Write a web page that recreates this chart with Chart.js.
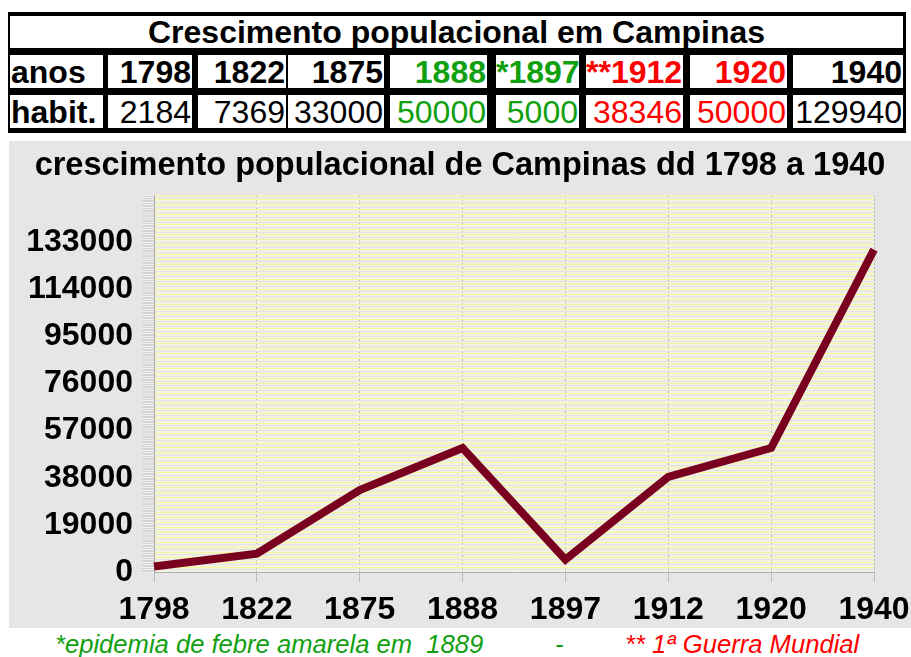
<!DOCTYPE html>
<html>
<head>
<meta charset="utf-8">
<script src="https://cdn.jsdelivr.net/npm/chart.js@4.4.1/dist/chart.umd.min.js"></script>
<style>
  html, body { margin:0; padding:0; background:#ffffff; width:911px; height:657px; overflow:hidden; }
  body { position:relative; font-family:"Liberation Sans", Arial, sans-serif; }
  .abs { position:absolute; box-sizing:border-box; }
  #tbl { left:8px; top:12px; width:898px; height:121px; background:#000; }
  .cell { position:absolute; background:#fff; overflow:visible; white-space:nowrap; }
  .hdr { font-weight:bold; font-size:32px; text-align:center; line-height:33px; }
  .yr { font-weight:bold; font-size:32px; text-align:right; line-height:34px; padding-right:1px; }
  .val { font-size:32px; text-align:right; line-height:34px; padding-right:1px; }
  .lbl { font-weight:bold; font-size:32px; text-align:left; line-height:34px; padding-left:1px; }
  #chartBox { left:9px; top:141px; width:902px; height:487px; background:#e6e6e6; }
  .note { position:absolute; top:629px; font-size:25.6px; font-style:italic; white-space:nowrap; line-height:30px; }
</style>
</head>
<body>
<div id="tbl" class="abs"></div>
<div id="chartBox" class="abs"><canvas id="c" width="902" height="487"></canvas></div>
<div class="note" style="left:55px;color:#10a010;">*epidemia de febre amarela em&nbsp;&nbsp;1889</div>
<div class="note" style="left:555px;color:#10a010;">-</div>
<div class="note" style="left:625px;color:#ff0000;">** 1ª Guerra Mundial</div>
<script>
// ---- data ----
const tableTitle = "Crescimento populacional em Campinas";
const chartTitle = "crescimento populacional de Campinas dd 1798 a 1940";
const rowLabelYears = "anos";
const rowLabelPop = "habit.";
const years = ["1798", "1822", "1875", "1888", "1897", "1912", "1920", "1940"];
const tableYearLabels = ["1798", "1822", "1875", "1888", "*1897", "**1912", "1920", "1940"];
const population = [2184, 7369, 33000, 50000, 5000, 38346, 50000, 129940];
const yMin = 0;
const yMax = 152000;
const yStep = 19000;

// ---- table (styles kept separate) ----
const GREEN = "#10a010", RED = "#ff0000", BLACK = "#000000";
const colColors = [BLACK, BLACK, BLACK, GREEN, GREEN, RED, RED, BLACK];
const colEdges = [[100,183],[190,277],[280,375],[382,478],[488,570],[578,674],[682,778],[785,894]]; // relative to table left
const tbl = document.getElementById('tbl');
function cell(x, y, w, h, cls, text, color) {
  const d = document.createElement('div');
  d.className = 'cell ' + cls;
  d.style.left = x + 'px'; d.style.top = y + 'px';
  d.style.width = w + 'px'; d.style.height = h + 'px';
  d.style.color = color || BLACK;
  d.textContent = text;
  tbl.appendChild(d);
}
cell(2, 4, 893, 32, 'hdr', tableTitle);
cell(2, 43, 92, 33, 'lbl', rowLabelYears);
cell(2, 83, 92, 33, 'lbl', rowLabelPop);
years.forEach((y, i) => {
  const [a, b] = colEdges[i];
  cell(a, 43, b - a, 33, 'yr', tableYearLabels[i], colColors[i]);
  cell(a, 83, b - a, 33, 'val', String(population[i]), colColors[i]);
});

// ---- chart ----
const FONT = "'Liberation Sans', Arial, sans-serif";
const areaBg = {
  id: 'areaBg',
  beforeDraw(chart) {
    const {ctx, chartArea: a} = chart;
    ctx.save();
    ctx.fillStyle = '#f3f3dd';
    ctx.fillRect(a.left, a.top, a.right - a.left, a.bottom - a.top);
    ctx.fillStyle = '#d4d4d4';
    ctx.fillRect(a.left - 12, a.top, 12, a.bottom - a.top);
    ctx.restore();
  }
};

new Chart(document.getElementById('c'), {
  type: 'line',
  data: {
    labels: years,
    datasets: [{
      data: population,
      borderColor: '#7a0020',
      borderWidth: 8,
      pointRadius: 0,
      tension: 0,
      fill: false,
      borderJoinStyle: 'miter',
      borderCapStyle: 'butt'
    }]
  },
  options: {
    responsive: false,
    animation: false,
    layout: { padding: { left: 0, right: 0, top: 0, bottom: 0 } },
    plugins: {
      legend: { display: false },
      tooltip: { enabled: false },
      title: {
        display: true,
        text: chartTitle,
        color: '#000',
        font: { family: FONT, size: 32.5, weight: 'bold' },
        padding: { top: 6, bottom: 9 }
      }
    },
    scales: {
      x: {
        type: 'category',
        offset: false,
        grid: { color: '#b4b4b4', tickColor: '#b8b8b8', tickLength: 10, lineWidth: 1 },
        border: { color: '#b0b0b0', dash: [2, 2] },
        ticks: { color: '#000', font: { family: FONT, size: 32, weight: 'bold' }, padding: 9, maxRotation: 0, autoSkip: false },
        afterFit: s => { s.height = 56; s.paddingLeft = 0; s.paddingRight = 37; }
      },
      y: {
        position: 'left',
        weight: 1,
        min: yMin, max: yMax,
        grid: { display: false, drawTicks: false },
        border: { display: false },
        ticks: {
          stepSize: yStep,
          color: '#000',
          font: { family: FONT, size: 32, weight: 'bold' },
          padding: 9,
          callback: v => (v === yMax ? '' : String(v))
        },
        afterFit: s => { s.width = 133; s.paddingTop = 0; s.paddingBottom = 0; }
      },
      y2: {
        position: 'left',
        weight: 0,
        min: yMin, max: yMax,
        grid: {
          color: c => (c.index % 2 === 0 ? '#f6f6a0' : '#e2e2ee'),
          tickColor: '#efefef',
          tickLength: 12,
          lineWidth: 1
        },
        border: { color: '#a8a8a8' },
        ticks: { display: false, stepSize: 1000 },
        afterFit: s => { s.width = 12; }
      }
    }
  },
  plugins: [areaBg]
});
</script>
</body>
</html>
